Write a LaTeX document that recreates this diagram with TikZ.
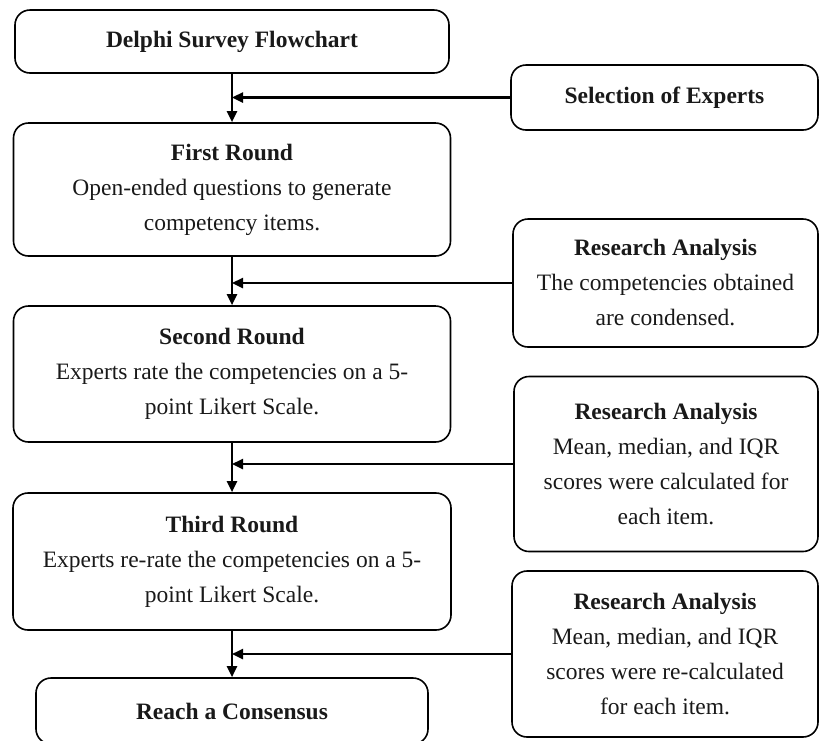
\documentclass[tikz,border=0pt]{standalone}
\usepackage{fontspec}
\setmainfont{Liberation Serif}
\usetikzlibrary{arrows.meta}
\begin{document}
\begin{tikzpicture}[x=1pt,y=-1pt,
  box/.style={draw=black, line width=1.6pt, rounded corners=15pt, align=center,
    inner sep=0pt, font=\fontsize{23.5}{35}\selectfont, text=black!90},
  arr/.style={line width=2.4pt, -{Triangle[length=11pt,width=10pt]}}]
\useasboundingbox (0,0) rectangle (819,740);
\node[box, minimum width=434, minimum height=63] (delphi) at (232,41.5) {\textbf{Delphi Survey Flowchart}};
\node[box, minimum width=437, minimum height=133] (first) at (232,189.5) {\textbf{First Round}\\Open-ended questions to generate\\competency items.};
\node[box, minimum width=437, minimum height=136] (second) at (232,374) {\textbf{Second Round}\\Experts rate the competencies on a 5-\\point Likert Scale.};
\node[box, minimum width=438, minimum height=137] (third) at (232,561.5) {\textbf{Third Round}\\Experts re-rate the competencies on a 5-\\point Likert Scale.};
\node[box, minimum width=392, minimum height=66] (reach) at (232,711) {\textbf{Reach a Consensus}};
\node[box, minimum width=307, minimum height=65] (sel) at (664.5,97.5) {\textbf{Selection of Experts}};
\node[box, minimum width=305, minimum height=128] (ra1) at (665.5,283) {\textbf{Research Analysis}\\The competencies obtained\\are condensed.};
\node[box, minimum width=304, minimum height=175] (ra2) at (666,464) {\textbf{Research Analysis}\\Mean, median, and IQR\\scores were calculated for\\each item.};
\node[box, minimum width=306, minimum height=166] (ra3) at (665,654) {\textbf{Research Analysis}\\Mean, median, and IQR\\scores were re-calculated\\for each item.};
\draw[arr] (delphi.south) -- (first.north);
\draw[arr] (first.south) -- (second.north);
\draw[arr] (second.south) -- (third.north);
\draw[arr] (third.south) -- (reach.north);
\draw[arr] (sel.west) -- (sel.west -| delphi.south);
\draw[arr] (ra1.west) -- (ra1.west -| first.south);
\draw[arr] (ra2.west) -- (ra2.west -| second.south);
\draw[arr] (ra3.west) -- (ra3.west -| third.south);
\end{tikzpicture}
\end{document}
